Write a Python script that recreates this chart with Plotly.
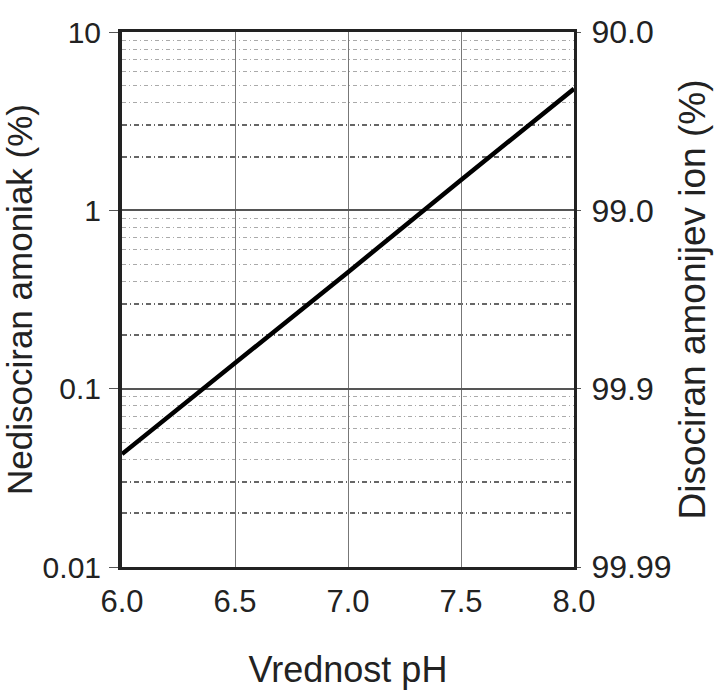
import plotly.graph_objects as go

# Data
ph = [6.0, 6.5, 7.0, 7.5, 8.0]
nh3_pct = [0.043, 0.139, 0.45, 1.48, 4.8]

x_ticks = [6.0, 6.5, 7.0, 7.5, 8.0]
x_ticktext = ["6.0", "6.5", "7.0", "7.5", "8.0"]
y_ticks = [0.01, 0.1, 1, 10]
y_ticktext = ["0.01", "0.1", "1", "10"]
y2_ticktext = ["99.99", "99.9", "99.0", "90.0"]
minor_dark = [m * d for d in (0.01, 0.1, 1) for m in (2, 3)]
minor_light = [m * d for d in (0.01, 0.1, 1) for m in (4, 5, 6, 7, 8, 9)]

FONT = "Liberation Sans, Arial, sans-serif"

fig = go.Figure()
fig.add_trace(go.Scatter(x=ph, y=nh3_pct, mode="lines",
                         line=dict(color="black", width=4.5), showlegend=False,
                         hoverinfo="skip"))
fig.add_trace(go.Scatter(x=ph, y=nh3_pct, mode="lines", yaxis="y2",
                         line=dict(color="rgba(0,0,0,0)", width=0),
                         showlegend=False, hoverinfo="skip"))

fig.update_layout(
    width=715, height=690,
    margin=dict(l=122, r=141, t=32, b=123),
    paper_bgcolor="white", plot_bgcolor="white",
    font=dict(family=FONT, color="#222"),
    xaxis=dict(
        range=[6.0, 8.0], tickvals=x_ticks, ticktext=x_ticktext,
        automargin=False,
        showgrid=True, gridcolor="#777", gridwidth=1,
        showline=True, linecolor="#222", linewidth=3, mirror=True,
        ticks="", tickfont=dict(size=31, family=FONT, color="#222"),
        ticklabelstandoff=5,
        title=dict(text="Vrednost pH", font=dict(size=36, family=FONT, color="#222"),
                   standoff=42),
        zeroline=False,
    ),
    yaxis=dict(
        type="log", range=[-2, 1], tickvals=y_ticks, ticktext=y_ticktext,
        automargin=False,
        showgrid=True, gridcolor="#555", gridwidth=1.5,
        showline=True, linecolor="#222", linewidth=4,
        ticks="outside", ticklen=9, tickcolor="#555", tickwidth=1,
        tickfont=dict(size=30, family=FONT, color="#222"),
        ticklabelstandoff=2,
        minor=dict(tickvals=minor_light, showgrid=True, gridcolor="#aaa",
                   gridwidth=1, griddash="4px,3px,1px,3px"),
        title=dict(text="Nedisociran amoniak (%)",
                   font=dict(size=35, family=FONT, color="#222"), standoff=7),
        zeroline=False,
    ),
    yaxis2=dict(
        type="log", range=[-2, 1], tickvals=y_ticks, ticktext=y2_ticktext,
        automargin=False,
        overlaying="y", side="right", showgrid=False,
        showline=True, linecolor="#222", linewidth=3,
        ticks="outside", ticklen=4, tickcolor="#555", tickwidth=1,
        tickfont=dict(size=32, family=FONT, color="#222"),
        ticklabelstandoff=4,
        minor=dict(tickvals=minor_dark, showgrid=True, gridcolor="#666",
                   gridwidth=1.5, griddash="5px,3px,1px,3px"),
        title=dict(text="Disociran amonijev ion (%)",
                   font=dict(size=37, family=FONT, color="#222"), standoff=9),
        zeroline=False,
    ),
)

fig.write_html("out.html")
